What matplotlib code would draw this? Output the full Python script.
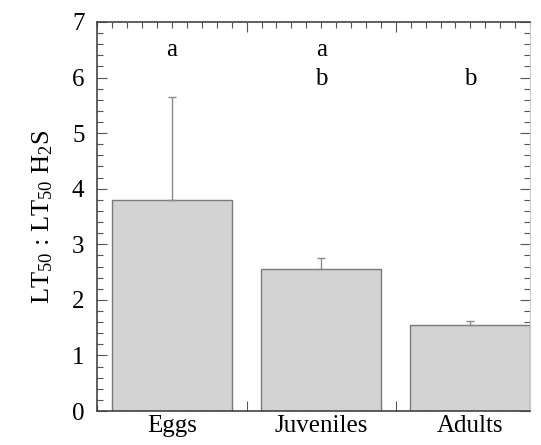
import matplotlib.pyplot as plt
from matplotlib.ticker import MultipleLocator, FixedLocator

plt.rcParams['font.family'] = ['Liberation Serif', 'DejaVu Serif']
plt.rcParams['mathtext.fontset'] = 'custom'
plt.rcParams['mathtext.rm'] = 'Liberation Serif'
plt.rcParams['mathtext.it'] = 'Liberation Serif'
plt.rcParams['mathtext.default'] = 'regular'

stages = ['Eggs', 'Juveniles', 'Adults']
ratio = [3.8, 2.55, 1.55]
err_up = [1.85, 0.21, 0.07]
letters_top = ['a', 'a', '']
letters_bottom = ['', 'b', 'b']

fig = plt.figure(figsize=(5.41, 4.45), dpi=100)
ax = fig.add_axes([97 / 541, 34 / 445, 433 / 541, 389 / 445])

x = list(range(len(stages)))
ax.bar(x, ratio, width=0.805, color='#d3d3d3', edgecolor='#7a7a7a', linewidth=1.0, zorder=2)
ax.errorbar(x, ratio, yerr=[[0] * 3, err_up], fmt='none', ecolor='#8a8a8a',
            elinewidth=1.0, capsize=3, capthick=1.0, zorder=3)

for xi, t in zip(x, letters_top):
    ax.text(xi, 6.5, t, ha='center', va='center', fontsize=18)
for xi, t in zip(x, letters_bottom):
    ax.text(xi, 5.98, t, ha='center', va='center', fontsize=18)

ax.set_xlim(-0.503, 2.40)
ax.set_ylim(0, 7)

ax.yaxis.set_major_locator(MultipleLocator(1))
ax.yaxis.set_minor_locator(MultipleLocator(0.2))
ax.xaxis.set_major_locator(FixedLocator([0.5, 1.5]))
ax.xaxis.set_minor_locator(MultipleLocator(0.1))
ax.set_xticklabels([])
for xi, s in zip(x, stages):
    ax.text(xi, -0.01, s, ha='center', va='top', fontsize=18,
            transform=ax.get_xaxis_transform())

ax.tick_params(axis='both', which='both', direction='in', top=True, right=True,
               color='#555555', width=0.8)
ax.tick_params(axis='both', which='major', length=7)
ax.tick_params(axis='both', which='minor', length=4)
ax.tick_params(axis='y', labelsize=18, pad=9)

for side in ['left', 'bottom', 'top']:
    ax.spines[side].set_color('#444444')
    ax.spines[side].set_linewidth(1.2)
ax.spines['right'].set_color('#cccccc')
ax.spines['right'].set_linewidth(0.8)

ax.set_ylabel('LT$_{50}$ : LT$_{50}$ H$_2$S', fontsize=19, labelpad=12)

fig.savefig('out.png', dpi=100)
